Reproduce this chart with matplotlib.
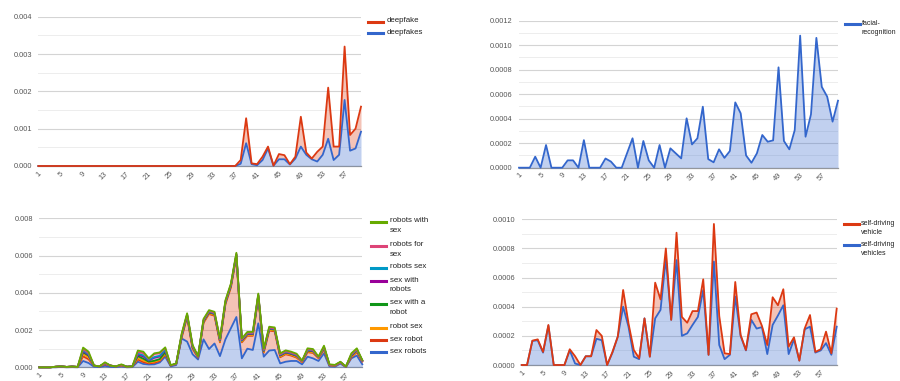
import numpy as np
import matplotlib.pyplot as plt
from matplotlib.lines import Line2D
from matplotlib.ticker import FormatStrFormatter, MultipleLocator

plt.rcParams["font.family"] = ["Liberation Sans", "DejaVu Sans"]

W, H = 900, 381  # output size in pixels (dpi 100)

weeks = np.arange(1, 61)
week_ticks = np.arange(1, 58, 4)

# --- deepfake / deepfakes (stacked, deepfakes at the bottom) ---
deepfakes = [0.0] * 37 + [
    0.00006, 0.00061, 0.00005, 0.00002, 0.00016, 0.00047, 0.00001, 0.00018, 0.00018, 0.00004,
    0.0002, 0.00052, 0.0003, 0.00018, 0.00012, 0.0003, 0.00073, 0.00016, 0.0003, 0.00177,
    0.00041, 0.00047, 0.00092,
]
deepfake = [0.0] * 37 + [
    0.0001, 0.00067, 0.00002, 0.00003, 0.00009, 0.00005, 0.0, 0.00014, 0.00011, 0.00001,
    0.00005, 0.0008, 0.00006, 0.00002, 0.00026, 0.00022, 0.00137, 0.00036, 0.00022, 0.00143,
    0.00042, 0.00053, 0.00067,
]

# --- facial-recognition ---
facial_recognition = [
    0, 0, 0, 0.00009, 0, 0.000185, 0, 0, 0, 0.00006,
    0.00006, 0, 0.000225, 0, 0, 0, 0.000075, 0.00005, 0, 0,
    0.00012, 0.00024, 0, 0.000218, 0.00006, 0, 0.000185, 0, 0.000158, 0.000117,
    0.000076, 0.000403, 0.00019, 0.00024, 0.000498, 0.00007, 0.000044, 0.00015, 0.00008, 0.000136,
    0.000533, 0.000444, 0.0001, 0.00004, 0.000117, 0.000267, 0.000212, 0.000223, 0.000819, 0.000218,
    0.00015, 0.000307, 0.001078, 0.000253, 0.000435, 0.00106, 0.00066, 0.00058, 0.000376, 0.000547,
]

# --- robot sex terms (stacked, sex robots at the bottom) ---
sex_robots = [
    0, 0, 0, 0, 0.00002, 0, 0.00001, 0, 0.00034, 0.00023,
    0.00003, 0.00001, 0.00008, 0.00002, 0.00001, 0.00005, 0, 0.00001, 0.0003, 0.00018,
    0.00015, 0.00016, 0.00026, 0.00057, 0.00005, 0.00012, 0.00155, 0.00138, 0.0007, 0.00042,
    0.0015, 0.00098, 0.00128, 0.0006, 0.0015, 0.0021, 0.0027, 0.00048, 0.001, 0.00093,
    0.00236, 0.00057, 0.0009, 0.00093, 0.00021, 0.0003, 0.00034, 0.00034, 0.00016, 0.00057,
    0.00048, 0.00034, 0.00075, 0.00005, 0.00003, 0.0002, 0.00001, 0.00048, 0.00063, 0.00016,
]
sex_robot = [
    0, 0, 0, 0.00003, 0.00003, 0.00002, 0.00003, 0.00002, 0.00025, 0.0002,
    0.00006, 0.00004, 0.00008, 0.00007, 0.00004, 0.00005, 0.00003, 0.00004, 0.00012, 0.0001,
    0.00006, 0.00008, 0.00008, 0.00012, 0.00005, 0.00006, 0.00004, 0.00131, 0.00029, 0.0001,
    0.00089, 0.00188, 0.00149, 0.00074, 0.00189, 0.00219, 0.00324, 0.00086, 0.00069, 0.00076,
    0.00139, 0.00022, 0.00107, 0.001, 0.00033, 0.0004, 0.00029, 0.00018, 0.00012, 0.00024,
    0.00029, 0.00015, 0.0002, 0.00006, 0.00005, 0.00005, 0.00002, 0.00006, 0.00018, 0.00015,
]
robot_sex = [
    0, 0, 0, 0, 0, 0, 0, 0, 0.00012, 0.0001,
    0, 0, 0.00003, 0, 0, 0, 0, 0, 0.00008, 0.00008,
    0.00005, 0.00006, 0.00005, 0.00006, 0, 0, 0.00004, 0.00004, 0.00004, 0.00002,
    0.00004, 0.00004, 0.00004, 0.00004, 0.00004, 0.00004, 0.00004, 0.00004, 0.00004, 0.00004,
    0.00004, 0.00004, 0.00004, 0.00004, 0.00004, 0.00004, 0.00004, 0.00004, 0.00002, 0.00004,
    0.00004, 0.00002, 0.00004, 0, 0, 0, 0, 0.00004, 0.00004, 0.00002,
]
sex_with_a_robot = [
    0, 0, 0, 0, 0, 0, 0, 0, 0.0001, 0.00009,
    0, 0, 0.00003, 0, 0, 0.00003, 0, 0, 0.0001, 0.0001,
    0.00004, 0.00005, 0.00005, 0.00006, 0, 0, 0.00005, 0.00005, 0.00005, 0.00003,
    0.00005, 0.00005, 0.00005, 0.00005, 0.00005, 0.00005, 0.00005, 0.00005, 0.00005, 0.00005,
    0.00005, 0.00005, 0.00005, 0.00005, 0.00005, 0.00005, 0.00005, 0.00005, 0.00003, 0.00005,
    0.00005, 0.00003, 0.00005, 0.00002, 0.00002, 0.00002, 0, 0.00005, 0.00005, 0.00003,
]
sex_with_robots = [
    0, 0, 0, 0, 0, 0, 0, 0, 0.00005, 0.00004,
    0, 0, 0, 0, 0, 0, 0, 0, 0.00008, 0.00012,
    0.00006, 0.00016, 0.00014, 0.0001, 0, 0, 0.00002, 0.00002, 0.00002, 0,
    0.00002, 0.00002, 0.00002, 0.00002, 0.00002, 0.00002, 0.00002, 0.00002, 0.00002, 0.00002,
    0.00002, 0.00002, 0.00002, 0.00002, 0.00002, 0.00002, 0.00002, 0.00002, 0, 0.00002,
    0.00002, 0, 0.00002, 0, 0, 0, 0, 0.00002, 0.00002, 0,
]
robots_sex = [
    0, 0, 0, 0, 0, 0, 0, 0, 0.00005, 0.00004,
    0, 0, 0, 0, 0, 0, 0, 0, 0.00006, 0.00006,
    0.00003, 0.00004, 0.00004, 0.00004, 0, 0, 0.00002, 0.00002, 0.00002, 0,
    0.00002, 0.00002, 0.00002, 0.00002, 0.00002, 0.00002, 0.00002, 0.00002, 0.00002, 0.00002,
    0.00002, 0.00002, 0.00002, 0.00002, 0.00002, 0.00002, 0.00002, 0.00002, 0, 0.00002,
    0.00002, 0, 0.00002, 0, 0, 0, 0, 0.00002, 0.00002, 0,
]
robots_for_sex = [
    0, 0, 0, 0, 0, 0, 0, 0, 0.00007, 0.00006,
    0, 0, 0, 0, 0, 0, 0, 0, 0.00008, 0.00012,
    0.00006, 0.00016, 0.00014, 0.00008, 0, 0, 0.00003, 0.00003, 0.00003, 0,
    0.00003, 0.00003, 0.00003, 0.00003, 0.00003, 0.00003, 0.00003, 0.00003, 0.00003, 0.00003,
    0.00003, 0.00003, 0.00003, 0.00003, 0.00003, 0.00003, 0.00003, 0.00003, 0, 0.00003,
    0.00003, 0, 0.00003, 0, 0, 0, 0, 0.00003, 0.00003, 0,
]
robots_with_sex = [
    0, 0, 0, 0, 0, 0, 0, 0, 0.00008, 0.00008,
    0, 0, 0.00005, 0, 0, 0.00003, 0, 0, 0.00008, 0.00008,
    0.00003, 0.00004, 0.00004, 0.00004, 0.00002, 0.00002, 0.00005, 0.00005, 0.00005, 0.00003,
    0.00005, 0.00005, 0.00005, 0.00005, 0.00005, 0.00005, 0.00005, 0.00005, 0.00005, 0.00005,
    0.00005, 0.00005, 0.00005, 0.00005, 0.00005, 0.00005, 0.00005, 0.00005, 0.00003, 0.00005,
    0.00005, 0.00003, 0.00005, 0.00003, 0.00003, 0.00003, 0.00001, 0.00005, 0.00005, 0.00003,
]

# --- self-driving vehicle(s) (stacked, vehicles at the bottom) ---
self_driving_vehicles = [
    0, 0, 0.000165, 0.00017, 0.000085, 0.00027, 0, 0, 0, 0.0001,
    0.00001, 0, 0.00006, 0.00006, 0.00018, 0.00017, 0, 0.000085, 0.000195, 0.0004,
    0.000263, 0.000057, 0.00004, 0.00032, 0.000057, 0.00032, 0.000378, 0.00073, 0.00031, 0.00072,
    0.0002, 0.000217, 0.000275, 0.00033, 0.000515, 0.00007, 0.00071, 0.000137, 0.00004, 0.00007,
    0.00047, 0.0002, 0.0001, 0.00031, 0.00025, 0.00026, 0.000075, 0.000275, 0.00034, 0.00041,
    0.000075, 0.000176, 0.00003, 0.000245, 0.000263, 0.000085, 0.0001, 0.00015, 0.00007, 0.000263,
]
self_driving_vehicle = [
    0, 0, 0.000002, 0.000006, 0.000005, 0.000005, 0, 0, 0, 0.000008,
    0.00005, 0, 0, 0, 0.00006, 0.00003, 0, 0.000005, 0, 0.000115,
    0.000023, 0.000046, 0.000006, 0, 0, 0.000245, 0.000072, 0.00007, 0, 0.000188,
    0.00013, 0.000073, 0.000095, 0.00004, 0.000073, 0, 0.000258, 0.000199, 0.00004, 0.000005,
    0.0001, 0.000006, 0.000003, 0.000038, 0.00011, 0.000008, 0.000062, 0.00019, 0.00007, 0.00011,
    0.000051, 0.000014, 0, 0.000005, 0.00008, 0.000005, 0.000008, 0.000079, 0.00001, 0.000124,
]

# Google chart palette
BLUE = "#3366cc"
RED = "#dc3912"
ORANGE = "#ff9900"
GREEN = "#109618"
PURPLE = "#990099"
CYAN = "#0099c6"
PINK = "#dd4477"
LIME = "#66aa00"


def make_axes(fig, box, ymax, major, minor, fmt):
    # box = (left, top, right, bottom) in pixels
    left, top, right, bottom = box
    ax = fig.add_axes([left / W, 1 - bottom / H, (right - left) / W, (bottom - top) / H])
    ax.set_xlim(1, 60)
    ax.set_ylim(0, ymax)
    ax.yaxis.set_major_locator(MultipleLocator(major))
    ax.yaxis.set_minor_locator(MultipleLocator(minor))
    ax.yaxis.set_major_formatter(FormatStrFormatter(fmt))
    ax.grid(which="major", axis="y", color="#d4d4d4", lw=0.8)
    ax.grid(which="minor", axis="y", color="#ededed", lw=0.7)
    ax.set_axisbelow(True)
    for s in ax.spines.values():
        s.set_visible(False)
    ax.set_xticks(week_ticks)
    ax.set_xticklabels([str(t) for t in week_ticks], rotation=45, ha="right",
                       va="top", rotation_mode="anchor")
    ax.tick_params(which="both", length=0, labelsize=5.3, labelcolor="#555555")
    ax.tick_params(axis="x", pad=3)
    ax.tick_params(axis="y", pad=4.5)
    ax.axhline(0, color="#9a9a9a", lw=0.9, zorder=1.5, clip_on=False)
    return ax


def draw_stacked(ax, layers):
    base = np.zeros(len(weeks))
    tops = []
    for values, color in layers:
        top = base + np.asarray(values, dtype=float)
        ax.fill_between(weeks, base, top, color=color, alpha=0.3, lw=0, zorder=2)
        tops.append((top, color))
        base = top
    for top, color in tops:
        ax.plot(weeks, top, color=color, lw=1.3, zorder=3, clip_on=False,
                solid_joinstyle="round")


def draw_legend(fig, x0, entries, size=5.7, gap=19):
    for label, color, y in entries:
        fig.add_artist(Line2D([x0 / W, (x0 + 15) / W], [1 - y / H, 1 - y / H],
                              color=color, lw=2.2))
        fig.text((x0 + gap) / W, 1 - (y - 4.3) / H, label, ha="left", va="top",
                 fontsize=size, color="#222222", linespacing=1.45)


def main():
    fig = plt.figure(figsize=(W / 100, H / 100), dpi=100)

    # top left
    ax = make_axes(fig, (38.3, 16.7, 361, 166), 0.004, 0.001, 0.0005, "%.3f")
    draw_stacked(ax, [(deepfakes, BLUE), (deepfake, RED)])
    draw_legend(fig, 368, [("deepfake", RED, 21.7), ("deepfakes", BLUE, 33.3)])

    # top right
    ax = make_axes(fig, (519, 20.7, 838, 167.7), 0.0012, 0.0002, 0.0001, "%.4f")
    draw_stacked(ax, [(facial_recognition, BLUE)])
    draw_legend(fig, 845, [("facial-\nrecognition", BLUE, 24)], size=5.0, gap=17)

    # bottom left
    ax = make_axes(fig, (39.3, 218.3, 362.3, 367.3), 0.008, 0.002, 0.001, "%.3f")
    draw_stacked(ax, [
        (sex_robots, BLUE),
        (sex_robot, RED),
        (robot_sex, ORANGE),
        (sex_with_a_robot, GREEN),
        (sex_with_robots, PURPLE),
        (robots_sex, CYAN),
        (robots_for_sex, PINK),
        (robots_with_sex, LIME),
    ])
    draw_legend(fig, 371, [
        ("robots with\nsex", LIME, 221.7),
        ("robots for\nsex", PINK, 245.7),
        ("robots sex", CYAN, 267.7),
        ("sex with\nrobots", PURPLE, 281),
        ("sex with a\nrobot", GREEN, 303.7),
        ("robot sex", ORANGE, 327.7),
        ("sex robot", RED, 340),
        ("sex robots", BLUE, 352.3),
    ])

    # bottom right
    ax = make_axes(fig, (521.7, 219.3, 836.7, 365), 0.001, 0.0002, 0.0001, "%.4f")
    draw_stacked(ax, [(self_driving_vehicles, BLUE), (self_driving_vehicle, RED)])
    draw_legend(fig, 844, [("self-driving\nvehicle", RED, 224.3),
                           ("self-driving\nvehicles", BLUE, 245)], size=5.0, gap=17)

    fig.savefig("out.png", dpi=100)


if __name__ == "__main__":
    main()
